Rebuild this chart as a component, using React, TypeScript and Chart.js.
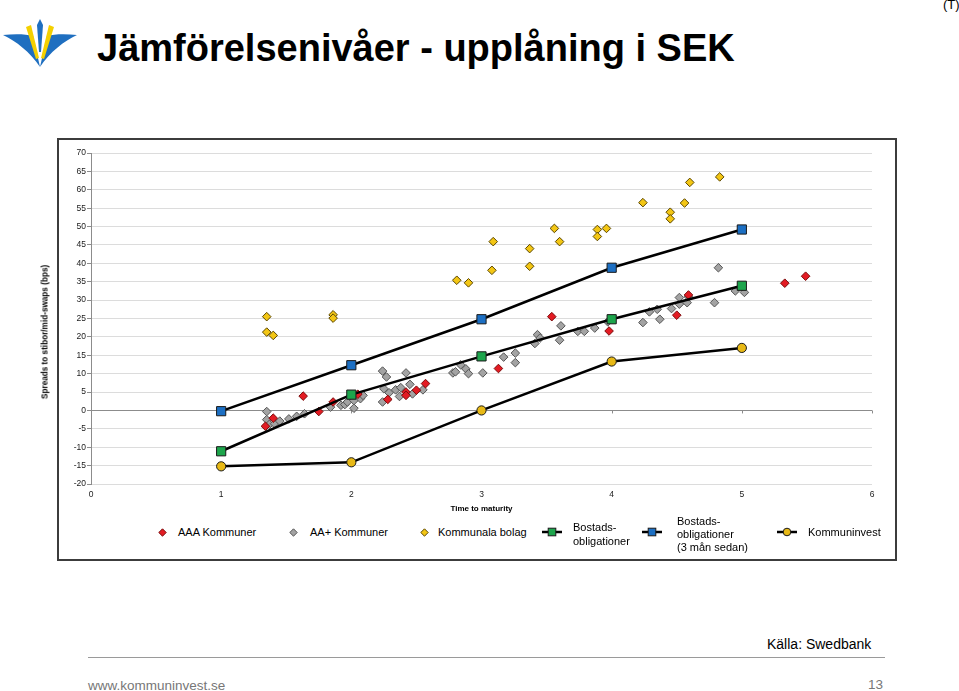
import React, { useEffect, useRef } from "react";
import { Chart, registerables } from "chart.js";

Chart.register(...registerables);

const FONT = "'Liberation Sans', Arial, Helvetica, sans-serif";

// X-axis (time to maturity) and y-axis (bps) settings
const xMin = 0;
const xMax = 6;
const yMin = -20;
const yMax = 70;
const yStep = 5;

// AAA Kommuner
const aaaX = [1.34, 1.40, 1.63, 1.75, 1.86, 2.05, 2.28, 2.42, 2.42, 2.50, 2.57, 3.13, 3.54, 3.98, 4.50, 4.59, 5.33, 5.49];
const aaaY = [-4.3, -2.1, 3.9, -0.3, 2.3, 4.4, 3.0, 5.0, 4.1, 5.5, 7.3, 11.4, 25.5, 21.6, 25.9, 31.4, 34.6, 36.5];

// AA+ Kommuner
const aaPlusX = [1.35, 1.35, 1.37, 1.41, 1.45, 1.52, 1.58, 1.64, 1.84, 1.92, 1.95, 1.97, 2.02, 2.02, 2.07, 2.09, 2.24, 2.27, 2.24, 2.25, 2.29, 2.34, 2.37, 2.38, 2.42, 2.45, 2.47, 2.55, 2.78, 2.80, 2.84, 2.88, 2.90, 3.01, 3.17, 3.26, 3.26, 3.41, 3.43, 3.45, 3.61, 3.60, 3.74, 3.79, 3.87, 3.97, 4.24, 4.29, 4.35, 4.37, 4.46, 4.52, 4.58, 4.79, 4.52, 4.59, 4.82, 4.95, 5.02];
const aaPlusY = [-0.3, -2.5, -3.8, -3.6, -2.9, -2.3, -1.6, -0.9, 0.9, 1.4, 1.6, 2.3, 0.6, 2.7, 3.2, 4.1, 10.7, 9.1, 2.3, 5.9, 4.8, 5.6, 3.8, 6.2, 10.2, 7.1, 4.5, 5.6, 10.2, 10.5, 12.4, 11.3, 10.0, 10.2, 14.5, 15.6, 13.0, 18.2, 20.6, 19.7, 23.0, 19.1, 21.5, 21.5, 22.4, 24.1, 23.9, 26.8, 27.5, 24.8, 27.7, 28.9, 29.3, 29.3, 30.7, 30.9, 38.8, 32.5, 32.1];

// Kommunala bolag
const bolagX = [1.35, 1.35, 1.40, 1.86, 1.86, 2.81, 2.90, 3.08, 3.09, 3.37, 3.37, 3.56, 3.60, 3.89, 3.89, 3.96, 4.24, 4.45, 4.45, 4.56, 4.60, 4.83];
const bolagY = [25.5, 21.3, 20.4, 26.0, 25.1, 35.4, 34.7, 38.1, 45.9, 39.2, 44.0, 49.5, 45.9, 49.2, 47.3, 49.5, 56.5, 53.9, 52.1, 56.4, 62.0, 63.5];

// Curves (1..5 years)
const curveX = [1, 2, 3, 4, 5];
const bostadsY = [-11.1, 4.3, 14.7, 24.8, 33.9];
const bostads3mY = [-0.2, 12.3, 24.8, 38.8, 49.2];
const kommuninvestY = [-15.2, -14.1, 0, 13.3, 17.0];

const pts = (xs: number[], ys: number[]) => xs.map((x, i) => ({ x, y: ys[i] }));

const C = {
  red: "#e31b23", redB: "#7a0a0a",
  grey: "#a3a3a3", greyB: "#555555",
  yellow: "#f3c614", yellowB: "#5a4600",
  green: "#1da54c", blue: "#1c6fc3", kiv: "#e8b916", dark: "#1a1a1a",
};

function Diamond({ fill, stroke, cx, cy }: { fill: string; stroke: string; cx: number; cy: number }) {
  return (
    <svg width={9} height={9} style={{ position: "absolute", left: cx - 4.5, top: cy - 4.5 }}>
      <polygon points="4.5,0.8 8.2,4.5 4.5,8.2 0.8,4.5" fill={fill} stroke={stroke} strokeWidth={1} />
    </svg>
  );
}

function LineMarker({ fill, cx, cy, circle }: { fill: string; cx: number; cy: number; circle?: boolean }) {
  return (
    <svg width={20} height={10} style={{ position: "absolute", left: cx - 10, top: cy - 5 }}>
      <line x1={0} y1={5} x2={20} y2={5} stroke="#000" strokeWidth={2.5} />
      {circle ? (
        <circle cx={10} cy={5} r={3.8} fill={fill} stroke={C.dark} strokeWidth={1} />
      ) : (
        <rect x={6.2} y={1.2} width={7.6} height={7.6} fill={fill} stroke={C.dark} strokeWidth={1} />
      )}
    </svg>
  );
}

function LegendText({ left, cy, lines, lh }: { left: number; cy: number; lines: string[]; lh: number }) {
  return (
    <div
      style={{
        position: "absolute", left, top: cy - (lines.length * lh) / 2,
        font: `11px ${FONT}`, lineHeight: `${lh}px`, color: "#000", whiteSpace: "nowrap",
      }}
    >
      {lines.map((l, i) => (<div key={i}>{l}</div>))}
    </div>
  );
}

export default function App() {
  const ref = useRef<HTMLCanvasElement>(null);

  useEffect(() => {
    if (!ref.current) return;
    const zeroTicks = {
      id: "zeroTicks",
      beforeDatasetsDraw(chart: any) {
        const xs = chart.scales.x, ys = chart.scales.y;
        const y0 = ys.getPixelForValue(0);
        const ctx = chart.ctx;
        ctx.save();
        ctx.strokeStyle = "#8c8c8c";
        ctx.lineWidth = 1;
        for (let v = xMin + 1; v <= xMax; v++) {
          const px = Math.round(xs.getPixelForValue(v)) + 0.5;
          ctx.beginPath();
          ctx.moveTo(px, y0);
          ctx.lineTo(px, y0 + 3);
          ctx.stroke();
        }
        ctx.restore();
      },
    };

    const lineDs = (label: string, ys: number[], fill: string, style: string, r: number) => ({
      type: "scatter" as const,
      label,
      data: pts(curveX, ys),
      showLine: true,
      borderColor: "#000",
      borderWidth: 2.5,
      pointStyle: style,
      pointRadius: r,
      pointBackgroundColor: fill,
      pointBorderColor: C.dark,
      pointBorderWidth: 1,
    });

    const dotDs = (label: string, xs: number[], ys: number[], fill: string, stroke: string) => ({
      type: "scatter" as const,
      label,
      data: pts(xs, ys),
      pointStyle: "rectRot",
      pointRadius: 4.3,
      backgroundColor: fill,
      borderColor: stroke,
      borderWidth: 1,
    });

    const chart = new Chart(ref.current, {
      type: "scatter",
      data: {
        datasets: [
          lineDs("Bostadsobligationer", bostadsY, C.green, "rect", 6.5),
          lineDs("Bostadsobligationer (3 mån sedan)", bostads3mY, C.blue, "rect", 6.5),
          lineDs("Kommuninvest", kommuninvestY, C.kiv, "circle", 4.6),
          dotDs("AAA Kommuner", aaaX, aaaY, C.red, C.redB),
          dotDs("AA+ Kommuner", aaPlusX, aaPlusY, C.grey, C.greyB),
          dotDs("Kommunala bolag", bolagX, bolagY, C.yellow, C.yellowB),
        ] as any,
      },
      options: {
        responsive: false,
        animation: false,
        layout: { padding: { top: 15, right: 28, left: 0, bottom: 0 } },
        plugins: { legend: { display: false }, tooltip: { enabled: false } },
        scales: {
          x: {
            type: "linear",
            min: xMin,
            max: xMax,
            ticks: { stepSize: 1, padding: 6, color: "#1a1a1a", font: { size: 8.5, family: FONT } },
            grid: { display: false, drawTicks: false },
            border: { display: false },
            title: {
              display: true, text: "Time to maturity", color: "#000",
              font: { size: 8, weight: "bold", family: FONT }, padding: { top: 0, bottom: 9 },
            },
            afterFit: (s: any) => { s.height = 39; },
          },
          y: {
            type: "linear",
            min: yMin,
            max: yMax,
            ticks: { stepSize: yStep, padding: 1, color: "#1a1a1a", font: { size: 8.5, family: FONT } },
            grid: {
              color: (ctx: any) => (ctx.tick && ctx.tick.value === 0 ? "#8c8c8c" : "#dcdcdc"),
              tickColor: "#8c8c8c",
              tickLength: 4,
              lineWidth: 1,
            },
            border: { color: "#8c8c8c" },
            afterFit: (s: any) => { s.width = 61; },
          },
        },
      } as any,
      plugins: [zeroTicks],
    });
    return () => chart.destroy();
  }, []);

  return (
    <div style={{ position: "fixed", left: 0, top: 0, width: 959, height: 691, background: "#fff", overflow: "hidden", fontFamily: FONT }}>
      {/* logo */}
      <svg width={80} height={60} style={{ position: "absolute", left: 0, top: 14 }}>
        <path d="M3,21 C14,20 26,20 33,22 L40,53 C30,38 16,27 3,21 Z" fill="#1f6fc0" />
        <path d="M77,21 C66,20 54,20 47,22 L40,53 C50,38 64,27 77,21 Z" fill="#1f6fc0" />
        <path d="M26,13 L31,11 L39,44 L36,45 Z" fill="#f4d000" />
        <path d="M54,13 L49,11 L41,44 L44,45 Z" fill="#f4d000" />
        <path d="M40,5 L43,11 L41,38 L39,38 L37,11 Z" fill="#1f6fc0" />
      </svg>
      <div style={{ position: "absolute", left: 97, top: 29, font: `bold 38px ${FONT}`, lineHeight: "38px", color: "#000", whiteSpace: "nowrap" }}>
        Jämförelsenivåer - upplåning i SEK
      </div>
      <div style={{ position: "absolute", left: 943, top: -2, font: `13px ${FONT}`, lineHeight: "13px", color: "#000" }}>(T)</div>

      {/* chart frame */}
      <div style={{ position: "absolute", left: 57, top: 138, width: 836, height: 419, border: "2px solid #3c3c3c" }} />
      <canvas ref={ref} width={870} height={385} style={{ position: "absolute", left: 30, top: 138, display: "block" }} />
      <div
        style={{
          position: "absolute", left: 45, top: 332, transform: "translate(-50%, -50%) rotate(-90deg)",
          font: `bold 8.2px ${FONT}`, color: "#000", whiteSpace: "nowrap",
        }}
      >
        Spreads to stibor/mid-swaps (bps)
      </div>

      {/* legend */}
      <Diamond fill={C.red} stroke={C.redB} cx={162} cy={532} />
      <LegendText left={178} cy={532} lines={["AAA Kommuner"]} lh={13} />
      <Diamond fill={C.grey} stroke={C.greyB} cx={293} cy={532} />
      <LegendText left={310} cy={532} lines={["AA+ Kommuner"]} lh={13} />
      <Diamond fill={C.yellow} stroke={C.yellowB} cx={424} cy={532} />
      <LegendText left={438} cy={532} lines={["Kommunala bolag"]} lh={13} />
      <LineMarker fill={C.green} cx={552} cy={532} />
      <LegendText left={573} cy={534} lines={["Bostads-", "obligationer"]} lh={14} />
      <LineMarker fill={C.blue} cx={652} cy={532} />
      <LegendText left={677} cy={534} lines={["Bostads-", "obligationer", "(3 mån sedan)"]} lh={13} />
      <LineMarker fill={C.kiv} cx={787} cy={532} circle />
      <LegendText left={808} cy={532} lines={["Kommuninvest"]} lh={13} />

      {/* footer */}
      <div style={{ position: "absolute", left: 767, top: 637, font: `14px ${FONT}`, lineHeight: "14px", color: "#000", whiteSpace: "nowrap" }}>Källa: Swedbank</div>
      <div style={{ position: "absolute", left: 88, top: 657, width: 797, height: 1, background: "#9a9a9a" }} />
      <div style={{ position: "absolute", left: 88, top: 679, font: `13.5px ${FONT}`, lineHeight: "14px", color: "#777", whiteSpace: "nowrap" }}>www.kommuninvest.se</div>
      <div style={{ position: "absolute", left: 868, top: 678, font: `13.5px ${FONT}`, lineHeight: "14px", color: "#777" }}>13</div>
    </div>
  );
}
